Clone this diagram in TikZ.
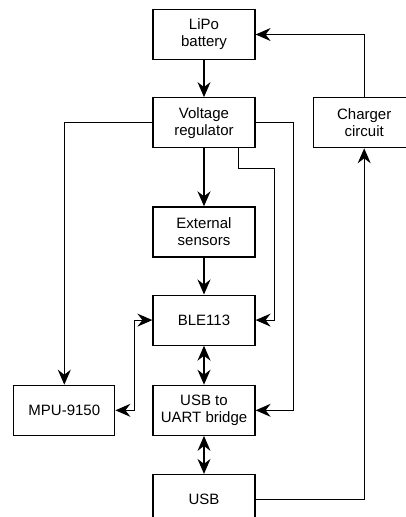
\documentclass[tikz,border=0pt]{standalone}
\usepackage{fontspec}
\setmainfont{Liberation Sans}
\usetikzlibrary{positioning,arrows.meta}
\begin{document}
\begin{tikzpicture}[x=1pt, y=-1pt,
  block/.style={draw=black, line width=1.2pt, minimum width=102pt, minimum height=50pt,
    align=center, inner sep=0pt, font=\fontsize{15}{17}\selectfont},
  conn/.style={line width=1.2pt, -{Stealth[length=15pt,width=13pt,inset=5pt]}},
  bidir/.style={line width=1.2pt, {Stealth[length=15pt,width=13pt,inset=5pt]}-{Stealth[length=15pt,width=13pt,inset=5pt]}}]
\useasboundingbox (0,0) rectangle (406,517);
\clip (0,0) rectangle (406,517);
\node [block] (lipo) at (204,34.5) {LiPo\\battery};
\node [block, below=37pt of lipo] (vreg) {Voltage\\regulator};
\node [block, below=58pt of vreg] (sens) {External\\sensors};
\node [block, below=37pt of sens] (ble) {BLE113};
\node [block, below=39pt of ble] (bridge) {USB to\\UART bridge};
\node [block, below=38pt of bridge] (usb) {USB};
\node [block, left=37pt of bridge, minimum width=101pt] (mpu) {MPU-9150};
\node [block, right=57pt of vreg] (charger) {Charger\\circuit};
% power
\draw [conn] (lipo) -- (vreg);
\draw [conn] (vreg) -- (sens);
\draw [conn] (sens) -- (ble);
\draw [conn] (vreg.west) -| (mpu.north);
\draw [conn] (vreg.east) -- ++(38,0) |- (bridge.east);
\draw [conn] ([xshift=-17pt]vreg.south east) -- ++(0,20) -- ++(36,0) |- (ble.east);
% data
\draw [bidir] (mpu.east) -- ++(19,0) |- (ble.west);
\draw [bidir] (ble) -- (bridge);
\draw [bidir] (bridge) -- (usb);
% charging
\draw [conn] (usb.east) -| (charger.south);
\draw [conn] (charger.north) |- (lipo.east);
\end{tikzpicture}
\end{document}
